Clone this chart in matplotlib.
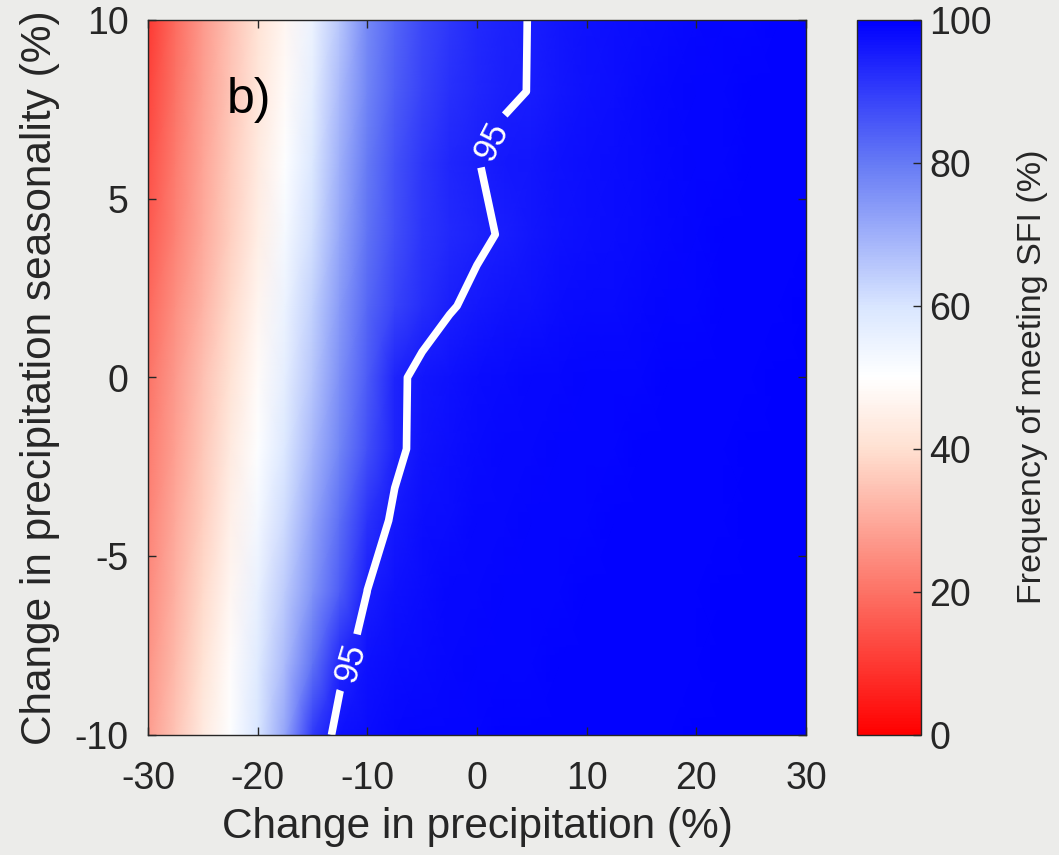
import numpy as np
import matplotlib
matplotlib.use("Agg")
import matplotlib.pyplot as plt
from matplotlib.colors import LinearSegmentedColormap

plt.rcParams['font.family'] = ['Liberation Sans', 'DejaVu Sans']
plt.rcParams['axes.unicode_minus'] = False

# Grid of scenarios: change in annual precipitation (%) and in seasonality (%)
precip_change = [-30, -27.5, -25, -22.5, -20, -17.5, -15, -12.5, -10, -7.5, -5, -2.5,
                 0, 2.5, 5, 7.5, 10, 12.5, 15, 17.5, 20, 22.5, 25, 27.5, 30]
seasonality_change = [-10, -8, -6, -4, -2, 0, 2, 4, 6, 8, 10]

# Frequency of meeting SFI (%), one row per seasonality change (bottom to top)
freq_sfi = [
    [27.5, 35, 43, 50.5, 60, 72, 90.5, 97, 98, 98.5, 98.9, 99.1, 99.2, 99.3, 99.4, 99.4, 99.5, 99.5, 99.6, 99.6, 99.7, 99.7, 99.8, 99.8, 99.9],
    [26, 33, 41, 49, 58, 68, 81, 93.7, 97.2, 97.9, 98.4, 98.8, 99, 99.1, 99.2, 99.3, 99.4, 99.5, 99.5, 99.6, 99.6, 99.7, 99.7, 99.8, 99.8],
    [24.5, 31.5, 39, 47, 55.5, 65, 75, 85, 95.1, 97.2, 98, 98.5, 98.8, 99, 99.1, 99.2, 99.3, 99.4, 99.5, 99.5, 99.6, 99.7, 99.7, 99.8, 99.8],
    [23, 30, 37, 45, 53, 62, 72, 82, 91.5, 96, 97.3, 98, 98.5, 98.7, 98.9, 99, 99.2, 99.3, 99.4, 99.5, 99.6, 99.6, 99.7, 99.8, 99.8],
    [21.5, 28.5, 35.5, 43, 50.5, 59, 68.5, 78, 87, 93.8, 96.6, 97.6, 98.2, 98.5, 98.7, 98.9, 99.1, 99.2, 99.3, 99.4, 99.5, 99.6, 99.7, 99.7, 99.8],
    [20, 27, 34, 41, 48.5, 57, 66, 76, 85, 93.8, 96.4, 97.2, 97.9, 98.2, 98.5, 98.7, 98.9, 99.1, 99.2, 99.3, 99.4, 99.5, 99.6, 99.7, 99.8],
    [18, 25, 32, 39, 46.5, 55, 64, 74, 83, 89, 92.5, 94.7, 95.8, 96.6, 97.2, 97.7, 98.1, 98.4, 98.7, 99, 99.2, 99.4, 99.5, 99.6, 99.7],
    [16, 23, 30, 37, 44.5, 52.5, 61, 71.5, 81, 87, 91.2, 93.3, 94.4, 95.3, 96.3, 97, 97.6, 98, 98.4, 98.8, 99.1, 99.3, 99.4, 99.5, 99.6],
    [14, 21.5, 29, 36, 43, 50.5, 59, 70, 80, 86.5, 91, 93.6, 94.9, 95.8, 96.4, 97, 97.5, 97.9, 98.3, 98.7, 99, 99.2, 99.4, 99.5, 99.6],
    [12, 20, 28, 35, 42, 48.5, 57, 68, 78, 84.5, 89, 91.8, 93.5, 94.6, 95.1, 96.3, 97.1, 97.6, 98.1, 98.5, 98.9, 99.1, 99.3, 99.4, 99.5],
    [10, 19, 27, 34, 41, 47, 55, 66, 77, 83.5, 88, 91, 93.2, 94.5, 95.1, 96.2, 97, 97.5, 98, 98.4, 98.8, 99, 99.2, 99.4, 99.5],
]

contour_levels = [95]
x_ticks = [-30, -20, -10, 0, 10, 20, 30]
y_ticks = [-10, -5, 0, 5, 10]
cbar_ticks = [0, 20, 40, 60, 80, 100]

bg = '#ececea'
ink = '#262626'
# Red -> warm white -> blue diverging palette
cmap = LinearSegmentedColormap.from_list('rwb', [
    (0.0, (1.0, 0.0, 0.0)),
    (0.2, (0.99, 0.45, 0.40)),
    (0.4, (1.0, 0.88, 0.82)),
    (0.5, (1.0, 1.0, 1.0)),
    (0.6, (0.85, 0.90, 1.0)),
    (0.8, (0.40, 0.48, 0.96)),
    (1.0, (0.0, 0.0, 1.0)),
], N=256)

X, Y = np.meshgrid(precip_change, seasonality_change)
Z = np.array(freq_sfi)

fig = plt.figure(figsize=(10.59, 8.55), dpi=100, facecolor=bg)
ax = fig.add_axes([148 / 1059, 120 / 855, 658 / 1059, 715 / 855])
cax = fig.add_axes([857 / 1059, 120 / 855, 64 / 1059, 715 / 855])

mesh = ax.pcolormesh(X, Y, Z, shading='gouraud', cmap=cmap, vmin=0, vmax=100)
cs = ax.contour(X, Y, Z, levels=contour_levels, colors='white', linewidths=5.5)
ax.clabel(cs, fmt='%d', fontsize=25, inline=True, inline_spacing=10,
          manual=[(1.4, 6.6), (-11.3, -8.0)])

ax.set_xlim(-30, 30)
ax.set_ylim(-10, 10)
ax.set_xticks(x_ticks)
ax.set_yticks(y_ticks)
ax.tick_params(axis='both', direction='in', length=6, width=1, top=True, right=True,
               colors=ink, labelsize=27)
ax.tick_params(axis='x', pad=19)
ax.tick_params(axis='y', pad=14)
for sp in ax.spines.values():
    sp.set_color(ink)
    sp.set_linewidth(1)

ax.set_xlabel('Change in precipitation (%)', fontsize=30.5, color=ink)
ax.xaxis.set_label_coords(0.5, -0.1)
ax.set_ylabel('Change in precipitation seasonality (%)', fontsize=30.5, color=ink)
ax.yaxis.set_label_coords(-0.133, 0.5)

ax.text(-22.8, 7.4, 'b)', fontsize=36, color='black')

cb = fig.colorbar(mesh, cax=cax, ticks=cbar_ticks)
cb.ax.tick_params(direction='in', length=6, width=1, colors=ink, labelsize=27, pad=6)
cb.outline.set_edgecolor(ink)
cb.outline.set_linewidth(1)
fig.text(1033 / 1059, 1 - 377 / 855, 'Frequency of meeting SFI (%)', rotation=90,
         ha='center', va='center', fontsize=24.5, color=ink)

fig.savefig('out.png', dpi=100, facecolor=bg)
